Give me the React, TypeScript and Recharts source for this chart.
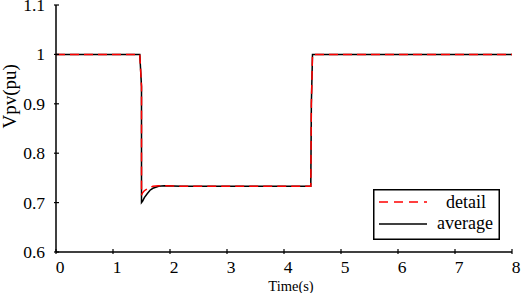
import { LineChart, Line, XAxis, YAxis, Legend } from "recharts"

const time = [0, 1.47, 1.5, 1.5, 1.52, 1.55, 1.6, 1.65, 1.7, 1.8, 1.9, 2.2, 3, 4, 4.47, 4.48, 4.5, 5, 6, 7, 8]
const detail = [1, 1, 0.935, 0.715, 0.72, 0.724, 0.728, 0.731, 0.733, 0.734, 0.734, 0.733, 0.733, 0.733, 0.733, 0.9, 1, 1, 1, 1, 1]
const average = [1, 1, 0.935, 0.7, 0.703, 0.71, 0.718, 0.725, 0.729, 0.733, 0.734, 0.733, 0.733, 0.733, 0.733, 0.9, 1, 1, 1, 1, 1]

const xTicks = [0, 1, 2, 3, 4, 5, 6, 7, 8]
const yTicks = [0.6, 0.7, 0.8, 0.9, 1, 1.1]

const data = time.map((t, i) => ({ t, detail: detail[i], average: average[i] }))

const FONT = '"Liberation Serif", "Times New Roman", serif'

const BottomTick = ({ x, y, payload }: any) => (
  <g>
    <line x1={x} x2={x} y1={y} y2={y - 5} stroke="#000" strokeWidth={1.2} />
    <text x={x + 4} y={y + 19} textAnchor="middle" fontSize={17.5} fontFamily={FONT} fill="#000">
      {payload.value}
    </text>
  </g>
)

const TopTick = ({ x, y }: any) => <line x1={x} x2={x} y1={y} y2={y + 5} stroke="#000" strokeWidth={1.2} />

const LeftTick = ({ x, y, payload }: any) => (
  <g>
    <line x1={x} x2={x + 5} y1={y} y2={y} stroke="#000" strokeWidth={1.2} />
    <text x={x - 9} y={y + 6} textAnchor="end" fontSize={17.5} fontFamily={FONT} fill="#000">
      {Number(payload.value.toFixed(1))}
    </text>
  </g>
)

const RightTick = ({ x, y }: any) => <line x1={x} x2={x - 5} y1={y} y2={y} stroke="#000" strokeWidth={1.2} />

const LegendBox = () => (
  <svg width={127} height={51} style={{ display: "block" }}>
    <rect x={0.75} y={0.75} width={125.5} height={49.5} fill="#fff" stroke="#000" strokeWidth={1.5} />
    <line x1={6} x2={54} y1={13} y2={13} stroke="#ff0000" strokeWidth={1.5} strokeDasharray="9 6" />
    <text x={93} y={19} textAnchor="middle" fontSize={18} fontFamily={FONT} fill="#000">detail</text>
    <line x1={6} x2={54} y1={35} y2={35} stroke="#000" strokeWidth={1.5} />
    <text x={92} y={40} textAnchor="middle" fontSize={18} fontFamily={FONT} fill="#000">average</text>
  </svg>
)

export default function App() {
  return (
    <div style={{ position: "absolute", left: 0, top: 0, width: 521, height: 293, background: "#fff", fontFamily: FONT }}>
      <LineChart width={521} height={293} data={data} margin={{ top: 5, right: 9, left: 0, bottom: 0 }}>
        <XAxis
          dataKey="t"
          type="number"
          domain={[0, 8]}
          ticks={xTicks}
          interval={0}
          height={41}
          tickSize={0}
          tickLine={false}
          tick={<BottomTick />}
          axisLine={{ stroke: "#000", strokeWidth: 1.5 }}
          label={{ value: "Time(s)", position: "insideBottom", offset: 2, fontSize: 14.5, fontFamily: FONT, fill: "#000", dx: 7 }}
        />
        <XAxis
          xAxisId="top"
          orientation="top"
          dataKey="t"
          type="number"
          domain={[0, 8]}
          ticks={xTicks}
          interval={0}
          height={0}
          tickSize={0}
          tickLine={false}
          tick={<TopTick />}
          axisLine={{ stroke: "#000", strokeWidth: 1.5 }}
        />
        <YAxis
          type="number"
          domain={[0.6, 1.1]}
          ticks={yTicks}
          interval={0}
          width={56}
          tickSize={0}
          tickLine={false}
          tick={<LeftTick />}
          axisLine={{ stroke: "#000", strokeWidth: 1.5 }}
          label={{ value: "Vpv(pu)", angle: -90, position: "insideLeft", offset: 0, dx: 9, dy: 0, fontSize: 19, fontFamily: FONT, fill: "#000" }}
        />
        <YAxis
          yAxisId="right"
          orientation="right"
          type="number"
          domain={[0.6, 1.1]}
          ticks={yTicks}
          interval={0}
          width={0}
          tickSize={0}
          tickLine={false}
          tick={<RightTick />}
          axisLine={{ stroke: "#000", strokeWidth: 1.5 }}
        />
        <Line type="linear" dataKey="average" name="average" stroke="#000" strokeWidth={1.5} dot={false} isAnimationActive={false} />
        <Line type="linear" dataKey="detail" name="detail" stroke="#ff0000" strokeWidth={1.5} strokeDasharray="9 5" dot={false} isAnimationActive={false} />
        <Legend
          layout="horizontal"
          align="center"
          verticalAlign="middle"
          content={<LegendBox />}
          wrapperStyle={{ position: "absolute", left: 373, top: 189, width: 127, height: 51 }}
        />
      </LineChart>
    </div>
  )
}
